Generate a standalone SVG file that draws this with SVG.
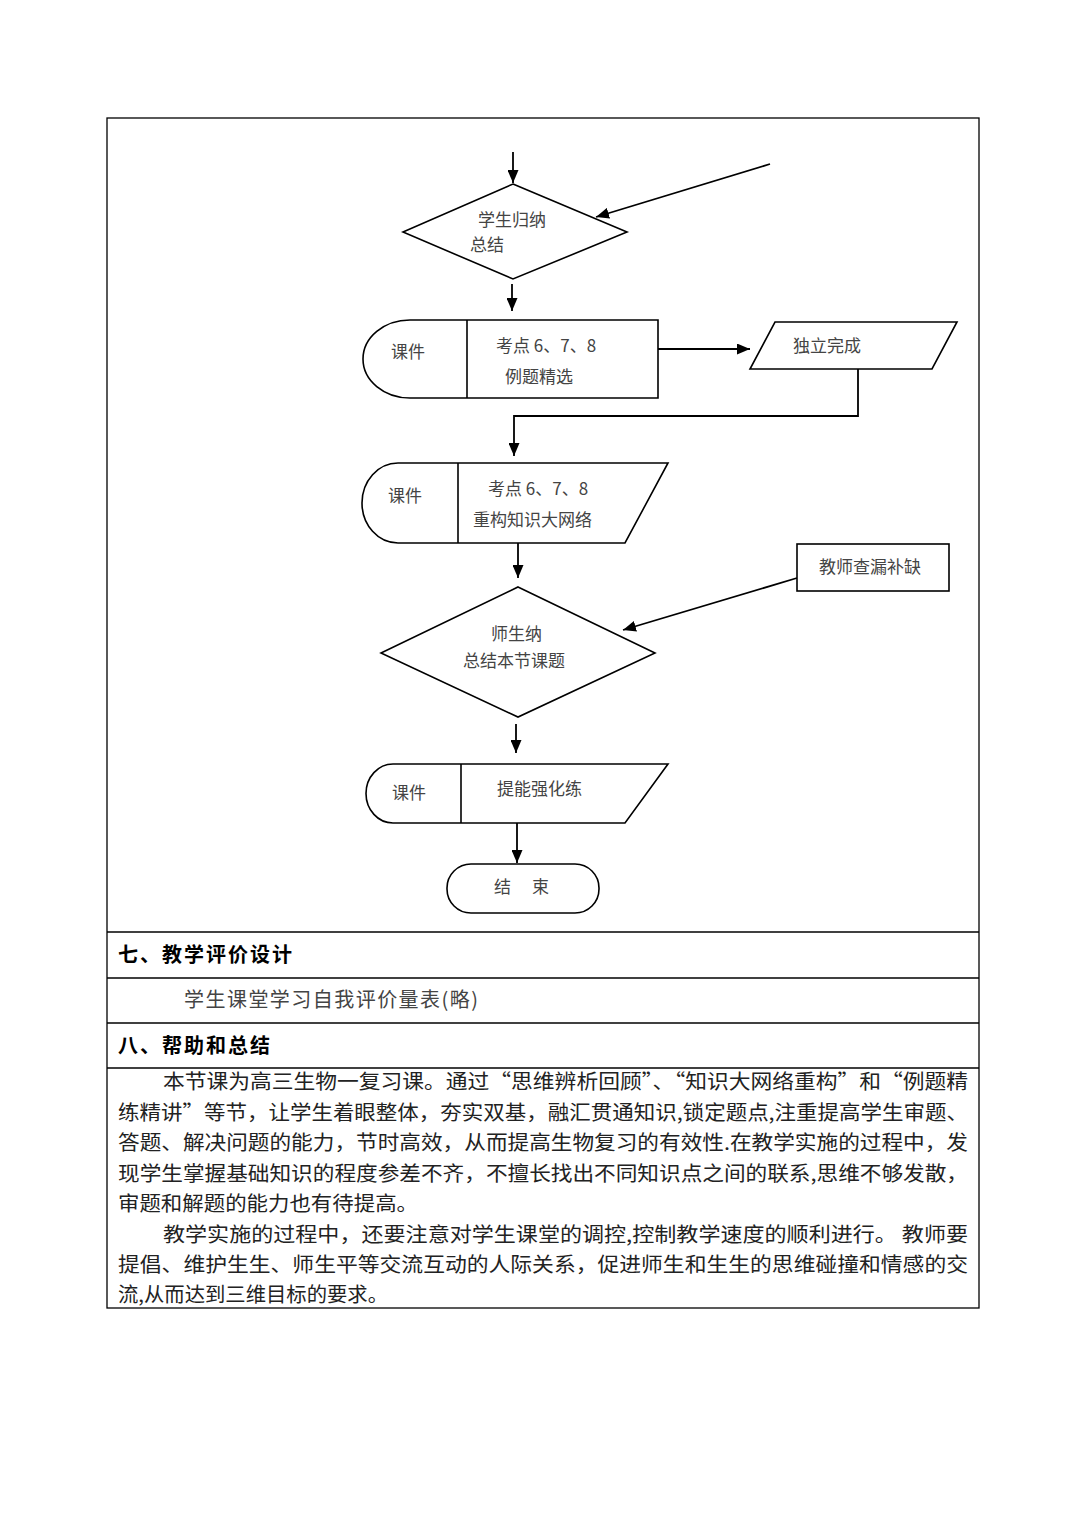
<svg xmlns="http://www.w3.org/2000/svg" width="1087" height="1536" viewBox="0 0 1087 1536">
<defs>
<marker id="ah" viewBox="0 0 13 11" refX="13" refY="5.5" markerWidth="13" markerHeight="11" markerUnits="userSpaceOnUse" orient="auto">
<path d="M0,0 L13,5.5 L0,11 Z" fill="#000"/>
</marker>
</defs>
<style>
.ln{fill:none;stroke:#000;stroke-width:1.3}
.sh{fill:#fff;stroke:#000;stroke-width:1.6}
.cn{fill:none;stroke:#000;stroke-width:1.8;marker-end:url(#ah)}
.ft{font-family:"Noto Sans CJK SC","Liberation Sans",sans-serif;font-size:17px;fill:#444}
.hd{font-family:"Noto Sans CJK SC","Liberation Sans",sans-serif;font-size:20px;font-weight:bold;fill:#000}
.pt{font-family:"Noto Sans CJK SC","Liberation Sans",sans-serif;font-size:20px;fill:#222}
</style>
<rect width="1087" height="1536" fill="#fff"/>
<g id="table">
<rect x="107" y="118" width="872" height="1190" class="ln"/>
<line x1="107" y1="932" x2="979" y2="932" class="ln"/>
<line x1="107" y1="978" x2="979" y2="978" class="ln"/>
<line x1="107" y1="1023" x2="979" y2="1023" class="ln"/>
<line x1="107" y1="1068" x2="979" y2="1068" class="ln"/>
</g>
<g id="connectors">
<line x1="513" y1="152" x2="513" y2="183" class="cn"/>
<line x1="770" y1="164" x2="596" y2="217" class="cn"/>
<line x1="512" y1="284" x2="512" y2="311" class="cn"/>
<line x1="658" y1="349" x2="750" y2="349" class="cn"/>
<polyline points="858,369 858,416 514,416 514,456" class="cn"/>
<line x1="518" y1="543" x2="518" y2="578" class="cn"/>
<line x1="797" y1="578" x2="623" y2="630" class="cn"/>
<line x1="516" y1="724" x2="516" y2="753" class="cn"/>
<line x1="517" y1="823" x2="517" y2="863" class="cn"/>
</g>
<g id="n1">
<polygon points="513,184 627,232 513,279 403,232" class="sh"/>
<text x="478" y="226" class="ft">学生归纳</text>
<text x="470" y="251" class="ft">总结</text>
</g>
<g id="n2">
<path d="M410,320 L658,320 L658,398 L410,398 A47,39 0 0 1 410,320 Z" class="sh"/>
<line x1="467" y1="320" x2="467" y2="398" class="sh"/>
<text x="391" y="358" class="ft">课件</text>
<text x="496" y="352" class="ft">考点 6、7、8</text>
<text x="505" y="383" class="ft">例题精选</text>
</g>
<g id="n3">
<polygon points="775,322 957,322 932,369 750,369" class="sh"/>
<text x="793" y="352" class="ft">独立完成</text>
</g>
<g id="n4">
<path d="M398,463 L668,463 L625,543 L398,543 A36,40 0 0 1 398,463 Z" class="sh"/>
<line x1="458" y1="463" x2="458" y2="543" class="sh"/>
<text x="388" y="502" class="ft">课件</text>
<text x="488" y="495" class="ft">考点 6、7、8</text>
<text x="473" y="526" class="ft">重构知识大网络</text>
</g>
<g id="n5">
<rect x="797" y="544" width="152" height="47" class="sh"/>
<text x="819" y="573" class="ft">教师查漏补缺</text>
</g>
<g id="n6">
<polygon points="518,587 655,653 518,717 381,653" class="sh"/>
<text x="491" y="640" class="ft">师生纳</text>
<text x="463" y="667" class="ft">总结本节课题</text>
</g>
<g id="n7">
<path d="M393,764 L668,764 L625,823 L393,823 A27,29.5 0 0 1 393,764 Z" class="sh"/>
<line x1="461" y1="764" x2="461" y2="823" class="sh"/>
<text x="392" y="799" class="ft">课件</text>
<text x="497" y="795" class="ft">提能强化练</text>
</g>
<g id="n8">
<rect x="447" y="864" width="152" height="49" rx="24" ry="24" class="sh"/>
<text x="494" y="893" class="ft">结</text>
<text x="532" y="893" class="ft">束</text>
</g>
<g id="text">
<text x="118" y="962" class="hd" textLength="174" lengthAdjust="spacing">七、教学评价设计</text>
<text x="184" y="1007" class="pt" textLength="294" lengthAdjust="spacing" style="fill:#444">学生课堂学习自我评价量表(略)</text>
<text x="118" y="1053" class="hd" textLength="152" lengthAdjust="spacing">八、帮助和总结</text>
<text x="163" y="1089" class="pt" textLength="805" lengthAdjust="spacingAndGlyphs">本节课为高三生物一复习课。通过“思维辨析回顾”、“知识大网络重构”和“例题精</text>
<text x="118" y="1120" class="pt" textLength="850" lengthAdjust="spacingAndGlyphs">练精讲”等节，让学生着眼整体，夯实双基，融汇贯通知识,锁定题点,注重提高学生审题、</text>
<text x="118" y="1150" class="pt" textLength="850" lengthAdjust="spacingAndGlyphs">答题、解决问题的能力，节时高效，从而提高生物复习的有效性.在教学实施的过程中，发</text>
<text x="118" y="1181" class="pt" textLength="850" lengthAdjust="spacingAndGlyphs">现学生掌握基础知识的程度参差不齐，不擅长找出不同知识点之间的联系,思维不够发散，</text>
<text x="118" y="1211" class="pt" textLength="300" lengthAdjust="spacingAndGlyphs">审题和解题的能力也有待提高。</text>
<text x="163" y="1242" class="pt" textLength="805" lengthAdjust="spacingAndGlyphs">教学实施的过程中，还要注意对学生课堂的调控,控制教学速度的顺利进行。 教师要</text>
<text x="118" y="1272" class="pt" textLength="850" lengthAdjust="spacingAndGlyphs">提倡、维护生生、师生平等交流互动的人际关系，促进师生和生生的思维碰撞和情感的交</text>
<text x="118" y="1302" class="pt" textLength="270" lengthAdjust="spacingAndGlyphs">流,从而达到三维目标的要求。</text>
</g>
</svg>
